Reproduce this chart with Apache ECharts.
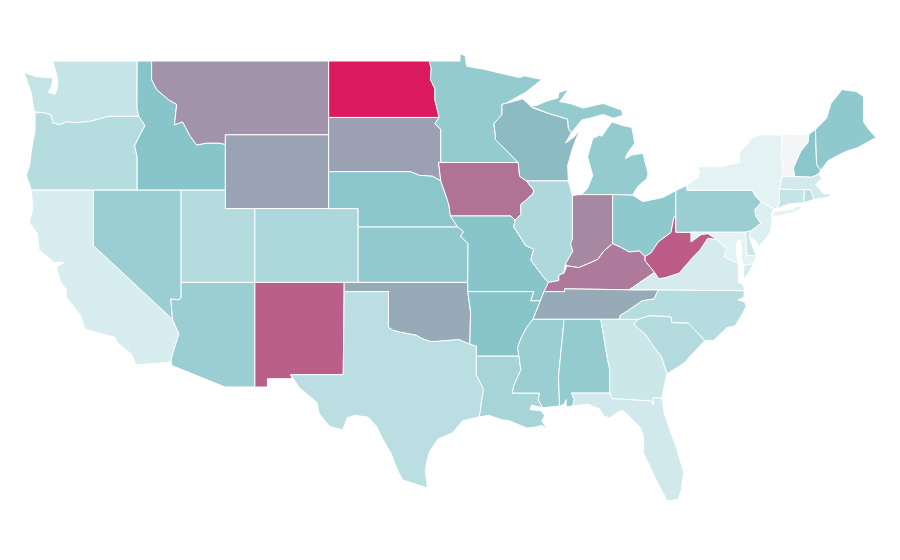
<!DOCTYPE html>
<html><head><meta charset="utf-8">
<style>html,body{margin:0;padding:0;background:#fff}#c{width:900px;height:560px}</style>
<script src="https://cdn.jsdelivr.net/npm/echarts@6/dist/echarts.min.js"></script>
</head><body><div id="c"></div>
<script>
const stateNames=['Washington','Oregon','California','Idaho','Nevada','Montana','Wyoming','Utah','Arizona','Colorado','New Mexico','North Dakota','South Dakota','Nebraska','Kansas','Oklahoma','Texas','Minnesota','Iowa','Missouri','Arkansas','Louisiana','Wisconsin','Illinois','Michigan','Indiana','Ohio','Kentucky','Tennessee','Mississippi','Alabama','Georgia','Florida','South Carolina','North Carolina','Virginia','West Virginia','Pennsylvania','New York','Vermont','New Hampshire','Maine','Massachusetts','Connecticut','Rhode Island','New Jersey','Delaware','Maryland'];
const stateValues=[23,30,15,50,42,65,60,31,42,34,80,100,61,49,46,58,28,45,74,50,50,37,53,33,45,68,47,72,58,42,45,20,18,31,30,16,81,42,9,0,49,47,17,23,28,13,20,10];
const colorStops=['#f4f5f7','#e3f2f4','#cce7ea','#b5dcdf','#9fd0d4','#88c5ca','#99a3b4','#aa819f','#ba5f89','#cb3c74','#dc1a5e'];
const stateShapes={
Washington:[[[-122.76,49],[-117.03,49],[-117.04,46.42],[-116.92,46],[-118.98,46],[-119.3,45.93],[-120.2,45.73],[-121.2,45.65],[-121.8,45.7],[-122.3,45.55],[-122.75,45.65],[-122.9,46.1],[-123.4,46.2],[-124,46.25],[-124.1,46.7],[-124.2,47.25],[-124.4,47.7],[-124.7,48.38],[-123.9,48.16],[-123.15,48.1],[-122.72,48.1],[-122.85,47.6],[-123.05,47.3],[-122.6,47.2],[-122.45,47.5],[-122.4,47.95],[-122.5,48.3],[-122.6,48.6]]],
Oregon:[[[-124.2,42],[-117.03,42],[-117.03,43.8],[-117.2,44.4],[-116.9,44.9],[-116.5,45.5],[-116.92,46],[-118.98,46],[-119.3,45.93],[-120.2,45.73],[-121.2,45.65],[-121.8,45.7],[-122.3,45.55],[-122.75,45.65],[-122.9,46.1],[-123.4,46.2],[-123.95,46.2],[-123.95,45.2],[-124.1,44.6],[-124.2,44.15],[-124.3,43.4],[-124.55,42.8]]],
California:[[[-124.2,42],[-120,42],[-120,39],[-114.63,35],[-114.2,34.2],[-114.5,33.45],[-114.7,32.9],[-114.72,32.72],[-115.05,32.65],[-117.12,32.53],[-117.4,33.1],[-118.4,33.75],[-118.55,34.03],[-119.4,34.2],[-120.5,34.45],[-120.65,34.6],[-120.85,35.2],[-121.8,36.15],[-121.85,36.65],[-122.2,37],[-122.45,37.65],[-122.5,37.85],[-122.2,37.95],[-122,38.08],[-122.35,38.1],[-122.65,38.05],[-123.7,38.8],[-123.8,39.65],[-124.35,40.25],[-124.1,41]]],
Idaho:[[[-117.03,49],[-116.05,49],[-116.05,48],[-115.7,47.45],[-114.9,46.9],[-114.35,46.65],[-114.5,45.55],[-113.95,45.7],[-113.45,44.95],[-113,44.45],[-112.3,44.55],[-111.5,44.55],[-111.05,44.48],[-111.05,42],[-117.03,42],[-117.03,43.8],[-117.2,44.4],[-116.9,44.9],[-116.5,45.5],[-116.92,46],[-117.04,46.42]]],
Nevada:[[[-120,42],[-114.05,42],[-114.05,36.2],[-114.2,36.05],[-114.75,36.1],[-114.63,35],[-120,39]]],
Montana:[[[-116.05,49],[-104.05,49],[-104.05,45],[-111.05,45],[-111.05,44.48],[-111.5,44.55],[-112.3,44.55],[-113,44.45],[-113.45,44.95],[-113.95,45.7],[-114.5,45.55],[-114.35,46.65],[-114.9,46.9],[-115.7,47.45],[-116.05,48]]],
Wyoming:[[[-111.05,45],[-104.05,45],[-104.05,41],[-111.05,41]]],
Utah:[[[-114.05,42],[-111.05,42],[-111.05,41],[-109.05,41],[-109.05,37],[-114.05,37]]],
Arizona:[[[-114.05,37],[-109.05,37],[-109.05,31.33],[-111.07,31.33],[-114.7,32.5],[-114.72,32.72],[-114.7,32.9],[-114.5,33.45],[-114.2,34.2],[-114.63,35],[-114.75,36.1],[-114.2,36.05],[-114.05,36.2]]],
Colorado:[[[-109.05,41],[-102.05,41],[-102.05,37],[-109.05,37]]],
'New Mexico':[[[-109.05,37],[-103,37],[-103,36.5],[-103.06,32],[-106.62,32],[-106.53,31.78],[-108.2,31.78],[-108.2,31.33],[-109.05,31.33]]],
'North Dakota':[[[-104.05,49],[-97.23,49],[-97.1,48.6],[-97.15,48],[-96.85,47.5],[-96.85,46.9],[-96.56,45.94],[-104.05,45.94]]],
'South Dakota':[[[-104.05,45.94],[-96.56,45.94],[-96.85,45.6],[-96.45,45.3],[-96.45,43.5],[-96.6,43.5],[-96.45,42.5],[-97,42.75],[-97.9,42.8],[-98.5,43],[-104.05,43]]],
Nebraska:[[[-104.05,43],[-98.5,43],[-97.9,42.8],[-97,42.75],[-96.45,42.5],[-96.1,41.7],[-95.9,41.2],[-95.8,40.6],[-95.3,40],[-102.05,40],[-102.05,41],[-104.05,41]]],
Kansas:[[[-102.05,40],[-95.3,40],[-94.9,39.75],[-95.1,39.5],[-94.6,39.1],[-94.62,37],[-102.05,37]]],
Oklahoma:[[[-103,37],[-94.62,37],[-94.62,36.5],[-94.43,35.4],[-94.48,33.64],[-95.2,33.9],[-96,33.85],[-96.7,33.8],[-97.2,33.8],[-97.7,33.95],[-98.1,34.13],[-99.2,34.3],[-99.7,34.4],[-100,34.56],[-100,36.5],[-103,36.5]]],
Texas:[[[-103,36.5],[-100,36.5],[-100,34.56],[-99.7,34.4],[-99.2,34.3],[-98.1,34.13],[-97.7,33.95],[-97.2,33.8],[-96.7,33.8],[-96,33.85],[-95.2,33.9],[-94.48,33.64],[-94.04,33.55],[-94.04,33],[-94.04,31.99],[-93.55,31.2],[-93.7,30.5],[-93.75,30.1],[-93.85,29.7],[-94.45,29.6],[-94.97,29.5],[-95.65,28.85],[-96.65,28.5],[-97.2,27.85],[-97.4,27.3],[-97.5,26.8],[-97.35,25.85],[-98.1,26.05],[-99.05,26.3],[-99.45,26.95],[-99.8,27.7],[-100.45,28.6],[-100.8,29.2],[-101.4,29.7],[-102.3,29.8],[-102.8,29.65],[-103.1,29],[-104,29.2],[-104.7,29.9],[-104.85,30.5],[-106.05,31.3],[-106.62,32],[-103.06,32]]],
Minnesota:[[[-97.23,49],[-95.15,49],[-95.15,49.38],[-94.8,49.3],[-94.7,48.72],[-93.5,48.55],[-92.2,48.3],[-91.1,48.1],[-90.8,48.2],[-89.6,48],[-90.7,47.3],[-92.05,46.7],[-92.3,46.65],[-92.3,46.1],[-92.85,45.6],[-92.75,45],[-92.75,44.75],[-91.2,43.5],[-96.45,43.5],[-96.45,45.3],[-96.85,45.6],[-96.56,45.94],[-96.85,46.9],[-96.85,47.5],[-97.15,48],[-97.1,48.6]]],
Iowa:[[[-96.45,43.5],[-91.2,43.5],[-91.1,42.75],[-90.65,42.5],[-90.15,42],[-90.2,41.8],[-91.05,41.2],[-91,40.7],[-91.42,40.38],[-91.7,40.6],[-95.8,40.6],[-95.9,41.2],[-96.1,41.7],[-96.45,42.5],[-96.6,43.5]]],
Missouri:[[[-95.8,40.6],[-91.7,40.6],[-91.42,40.38],[-91.5,40],[-90.7,39],[-90.15,38.8],[-90.35,38.2],[-89.5,37.3],[-89.15,37],[-89.45,36.5],[-89.7,36],[-90.35,36],[-90.15,36.5],[-94.62,36.5],[-94.62,37],[-94.6,39.1],[-95.1,39.5],[-94.9,39.75],[-95.3,40]]],
Arkansas:[[[-94.62,36.5],[-90.15,36.5],[-90.35,36],[-89.7,36],[-90.2,35],[-90.6,34.6],[-91,34],[-91.25,33.45],[-91.15,33],[-94.04,33],[-94.04,33.55],[-94.48,33.64],[-94.43,35.4]]],
Louisiana:[[[-94.04,33],[-91.15,33],[-91.05,32.4],[-91,32.3],[-91.5,31.4],[-91.6,31],[-89.75,31],[-89.85,30.65],[-89.55,30.2],[-90.3,30.35],[-90.4,30.1],[-89.7,30.05],[-89.4,29.8],[-89.6,29.5],[-89.25,29.05],[-89.6,29.25],[-90.1,29.15],[-90.6,29.1],[-91.2,29.3],[-91.8,29.5],[-92.3,29.55],[-93.2,29.8],[-93.85,29.7],[-93.75,30.1],[-93.7,30.5],[-93.55,31.2],[-94.04,31.99]]],
Wisconsin:[[[-92.05,46.7],[-90.9,46.95],[-90.2,46.45],[-89.1,46.15],[-87.85,45.85],[-87.8,45.35],[-87.6,45.1],[-88,44.55],[-87.4,44.9],[-87.05,45.25],[-87.5,44.3],[-87.85,43.35],[-87.8,42.5],[-90.65,42.5],[-91.1,42.75],[-91.2,43.5],[-92.75,44.75],[-92.75,45],[-92.85,45.6],[-92.3,46.1],[-92.3,46.65]]],
Illinois:[[[-90.65,42.5],[-87.8,42.5],[-87.53,41.7],[-87.53,39.35],[-87.65,39.1],[-87.5,38.7],[-88,38],[-88.1,37.5],[-88.45,37.4],[-88.45,37.1],[-89.15,37],[-89.5,37.3],[-90.35,38.2],[-90.15,38.8],[-90.7,39],[-91.5,40],[-91.42,40.38],[-91,40.7],[-91.05,41.2],[-90.2,41.8],[-90.15,42]]],
Michigan:[[[-84.8,41.76],[-86.9,41.76],[-86.5,42.1],[-86.15,42.8],[-86.5,43.8],[-86.15,44.8],[-85.65,45],[-85.55,44.9],[-85.3,45.2],[-84.85,45.7],[-84.1,45.5],[-83.5,45.4],[-83.3,44.55],[-83.8,44],[-83.95,43.7],[-83.5,43.9],[-82.75,44],[-82.4,42.9],[-82.5,42.6],[-83.1,42.2],[-83.45,41.73]],[[-90.4,46.55],[-89.95,46.6],[-89.2,46.85],[-88.5,47],[-88.45,47.3],[-87.8,47.45],[-88.2,47],[-88.4,46.8],[-87.7,46.7],[-86.8,46.45],[-85.45,46.7],[-84.2,46.35],[-84.1,46.05],[-84.75,45.9],[-85.45,46.1],[-86.35,45.9],[-86.9,45.8],[-87.6,45.1],[-87.8,45.35],[-87.85,45.85],[-89.1,46.15]]],
Indiana:[[[-87.53,41.7],[-87.2,41.75],[-86.9,41.76],[-84.8,41.76],[-84.8,39.1],[-85.4,38.7],[-85.8,38.25],[-86.5,38],[-87.1,37.8],[-87.9,37.9],[-88,38],[-87.5,38.7],[-87.65,39.1],[-87.53,39.35]]],
Ohio:[[[-84.8,41.76],[-83.45,41.73],[-82.75,41.38],[-81.4,41.6],[-80.52,41.98],[-80.52,40.64],[-80.65,40.5],[-80.85,39.7],[-81.7,39.2],[-82.2,38.6],[-82.6,38.4],[-83,38.7],[-83.7,38.65],[-84.25,38.9],[-84.8,39.1]]],
Kentucky:[[[-89.45,36.5],[-88.05,36.5],[-88.05,36.65],[-83.68,36.6],[-81.96,37.54],[-82.6,38.17],[-82.6,38.4],[-83,38.7],[-83.7,38.65],[-84.25,38.9],[-84.8,39.1],[-85.4,38.7],[-85.8,38.25],[-86.5,38],[-87.1,37.8],[-87.9,37.9],[-88.1,37.5],[-88.45,37.4],[-88.45,37.1],[-89.15,37]]],
Tennessee:[[[-90.2,35],[-89.7,36],[-89.45,36.5],[-88.05,36.5],[-88.05,36.65],[-83.68,36.6],[-81.7,36.6],[-82,36.1],[-82.8,36],[-83.8,35.45],[-84.3,35.2],[-84.3,35]]],
Mississippi:[[[-91.15,33],[-91.25,33.45],[-91,34],[-90.6,34.6],[-90.2,35],[-88.2,35],[-88.1,34.9],[-88.47,31.9],[-88.4,30.3],[-89.55,30.2],[-89.85,30.65],[-89.75,31],[-91.6,31],[-91.5,31.4],[-91,32.3],[-91.05,32.4]]],
Alabama:[[[-88.2,35],[-85.6,35],[-85.15,32.85],[-85,32.3],[-85,31],[-87.6,31],[-87.4,30.65],[-87.5,30.3],[-87.95,30.25],[-87.95,30.65],[-88.1,30.4],[-88.4,30.3],[-88.47,31.9],[-88.1,34.9]]],
Georgia:[[[-85.6,35],[-84.3,35],[-83.1,35],[-83.35,34.7],[-82.6,34.2],[-82,33.5],[-81.5,33],[-81.15,32.15],[-81.1,32.05],[-81.3,31.4],[-81.45,30.72],[-82.05,30.75],[-82.05,30.36],[-82.2,30.57],[-84.85,30.7],[-85,31],[-85,32.3],[-85.15,32.85]]],
Florida:[[[-87.6,31],[-85,31],[-84.85,30.7],[-82.2,30.57],[-82.05,30.36],[-82.05,30.75],[-81.45,30.72],[-81.3,29.9],[-80.9,28.95],[-80.55,28.2],[-80.05,26.9],[-80,26.6],[-80.15,25.75],[-80.35,25.25],[-81.1,25.15],[-81.8,26.2],[-82.2,26.9],[-82.7,27.7],[-82.7,28.6],[-82.9,29.1],[-83.5,29.6],[-84.1,30.05],[-84.4,30],[-85,29.65],[-85.4,29.75],[-85.7,30.15],[-86.5,30.4],[-87.5,30.3],[-87.4,30.65]]],
'South Carolina':[[[-83.1,35],[-82.3,35.2],[-81.05,35.15],[-80.8,35.1],[-80.8,34.82],[-79.67,34.8],[-78.55,33.85],[-79.2,33.3],[-80,32.6],[-81.1,32.05],[-81.15,32.15],[-81.5,33],[-82,33.5],[-82.6,34.2],[-83.35,34.7]]],
'North Carolina':[[[-84.3,35],[-84.3,35.2],[-83.8,35.45],[-82.8,36],[-82,36.1],[-81.7,36.6],[-75.87,36.55],[-75.9,36.2],[-76.3,36.05],[-75.85,35.95],[-75.75,35.7],[-76,35.3],[-76.5,34.65],[-77.05,34.55],[-77.5,34.2],[-77.95,33.85],[-78.55,33.85],[-79.67,34.8],[-80.8,34.82],[-80.8,35.1],[-81.05,35.15],[-82.3,35.2],[-83.1,35]]],
Virginia:[[[-83.68,36.6],[-81.7,36.6],[-75.87,36.55],[-75.95,36.9],[-76.3,37],[-76.25,37.55],[-76.3,38.05],[-76.9,38.25],[-77.25,38.4],[-77.05,38.85],[-77.5,39.1],[-77.72,39.32],[-78.35,39.4],[-78.87,38.77],[-79.3,38.42],[-80.3,37.5],[-81.25,37.25],[-81.68,37.2],[-81.96,37.54]],[[-75.9,37.92],[-75.25,38.03],[-75.6,37.5],[-75.95,37.15]]],
'West Virginia':[[[-80.52,40.64],[-80.52,39.72],[-79.48,39.72],[-79.48,39.2],[-78.8,39.6],[-78.35,39.65],[-77.72,39.32],[-78.35,39.4],[-78.87,38.77],[-79.3,38.42],[-80.3,37.5],[-81.25,37.25],[-81.68,37.2],[-81.96,37.54],[-82.6,38.17],[-82.6,38.4],[-82.2,38.6],[-81.7,39.2],[-80.85,39.7],[-80.65,40.5]]],
Pennsylvania:[[[-80.52,41.98],[-79.76,42.27],[-79.76,42],[-75.35,42],[-75.05,41.6],[-74.7,41.36],[-75.15,40.95],[-75.1,40.6],[-74.75,40.2],[-75.4,39.8],[-75.8,39.72],[-80.52,39.72],[-80.52,40.64]]],
'New York':[[[-79.76,42.27],[-79,42.7],[-78.9,43],[-79.05,43.27],[-77.5,43.27],[-76.2,43.5],[-76.2,44.05],[-75.3,44.85],[-74.7,45],[-73.35,45],[-73.3,44.5],[-73.4,43.6],[-73.25,43.55],[-73.3,42.75],[-73.5,42.05],[-73.5,41.3],[-73.65,41],[-73.9,41],[-74.7,41.36],[-75.05,41.6],[-75.35,42],[-79.76,42]],[[-74.05,40.6],[-73.75,40.85],[-72.6,40.98],[-72.3,41.15],[-71.9,41.05],[-72.5,40.8],[-73.5,40.6]]],
Vermont:[[[-73.35,45],[-71.5,45.02],[-71.55,44.6],[-72.05,44.1],[-72.55,43.2],[-72.45,42.73],[-73.3,42.75],[-73.25,43.55],[-73.4,43.6],[-73.3,44.5]]],
'New Hampshire':[[[-71.5,45.02],[-71.05,45.3],[-70.98,43.4],[-70.7,43.08],[-70.85,42.87],[-71.3,42.7],[-72.45,42.73],[-72.55,43.2],[-72.05,44.1],[-71.55,44.6]]],
Maine:[[[-71.05,45.3],[-70.3,45.9],[-70,46.7],[-69.25,47.45],[-68.3,47.35],[-67.8,47.07],[-67.8,45.7],[-67.45,45.3],[-66.95,44.85],[-68.2,44.3],[-69,44.1],[-70.2,43.6],[-70.7,43.08],[-70.98,43.4]]],
Massachusetts:[[[-73.5,42.05],[-73.3,42.75],[-72.45,42.73],[-71.3,42.7],[-70.85,42.87],[-70.6,42.65],[-71.05,42.3],[-70.65,41.95],[-70.5,41.8],[-70.05,41.8],[-70.05,41.65],[-70.65,41.55],[-71.15,41.5],[-71.38,42.02],[-71.8,42.02]]],
Connecticut:[[[-73.5,42.05],[-71.8,42.02],[-71.85,41.32],[-72.9,41.25],[-73.65,41],[-73.5,41.3]]],
'Rhode Island':[[[-71.8,42.02],[-71.38,42.02],[-71.15,41.5],[-71.85,41.32]]],
'New Jersey':[[[-74.7,41.36],[-73.9,41],[-74.05,40.65],[-74,40.45],[-74.1,39.75],[-74.4,39.4],[-74.9,38.93],[-75.05,39.2],[-75.55,39.5],[-75.4,39.8],[-74.75,40.2],[-75.1,40.6],[-75.15,40.95]]],
Delaware:[[[-75.8,39.72],[-75.4,39.8],[-75.55,39.5],[-75.4,39.1],[-75.05,38.45],[-75.7,38.46]]],
Maryland:[[[-79.48,39.72],[-75.8,39.72],[-75.7,38.46],[-75.05,38.45],[-75.25,38.03],[-75.9,37.92],[-76.1,38.3],[-76.05,38.7],[-76.15,39.3],[-76.38,39.2],[-76.4,38.5],[-76.3,38.05],[-76.9,38.25],[-77.25,38.4],[-77.05,38.85],[-77.5,39.1],[-77.72,39.32],[-78.35,39.65],[-78.8,39.6],[-79.48,39.2]]]
};
const geoJson={type:'FeatureCollection',features:stateNames.map(n=>({type:'Feature',properties:{name:n},geometry:{type:'MultiPolygon',coordinates:stateShapes[n].map(r=>[r.concat([r[0]])])}}))};
echarts.registerMap('USA',geoJson);
const chart=echarts.init(document.getElementById('c'),null,{renderer:'canvas'});
chart.setOption({
  animation:false,
  backgroundColor:'#fff',
  visualMap:{show:false,min:0,max:100,inRange:{color:colorStops},seriesIndex:0},
  series:[{type:'map',map:'USA',aspectScale:0.8,left:24,top:54,width:852,height:447,roam:false,silent:true,
    label:{show:false},emphasis:{disabled:true},select:{disabled:true},
    itemStyle:{borderColor:'#fff',borderWidth:1},
    data:stateNames.map((n,i)=>({name:n,value:stateValues[i]}))}]
});
</script></body></html>
